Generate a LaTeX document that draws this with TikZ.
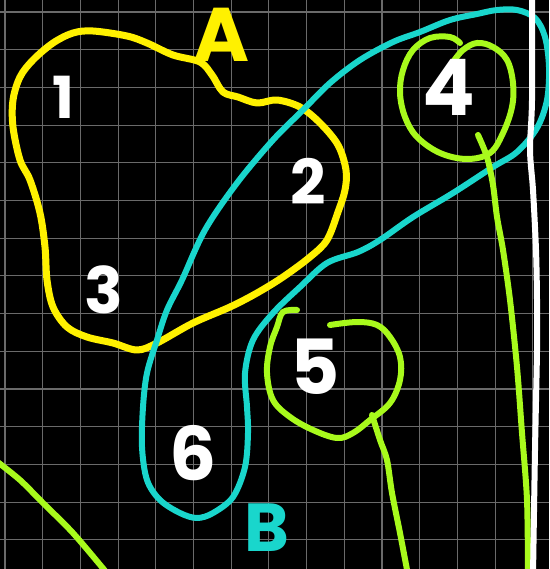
\documentclass[tikz,border=0pt]{standalone}
\usepackage{fontspec}
\setmainfont{Poppins}
\definecolor{SketchYellow}{HTML}{FFF100}
\definecolor{SketchCyan}{HTML}{19D6CC}
\definecolor{SketchGreen}{HTML}{A8FA1C}
\definecolor{GridGray}{HTML}{6A6A6A}
\tikzset{
  pen/.style={line width=6pt,line cap=round,line join=round},
  digit/.style={text=white,inner sep=0pt,font=\fontsize{#1}{#1}\selectfont\bfseries},
  digit/.default=64
}

\begin{document}
\begin{tikzpicture}[x=1pt,y=-1pt]
  \useasboundingbox (0,0) rectangle (549,569);
  \fill[black] (0,0) rectangle (549,569);
  \clip (0,0) rectangle (549,569);
  % grid
  \foreach \k in {0,...,14} {
    \draw[GridGray,line width=1.1pt] ({5+37.7*\k},0) -- ({5+37.7*\k},569);
    \draw[GridGray,line width=1.1pt] (0,{12+37.7*\k}) -- (549,{12+37.7*\k});
  }
  % set A
  \draw[pen,SketchYellow,line width=7pt] plot[smooth cycle,tension=.55] coordinates
   {(93,31)(127,36)(147,43)(173,55)(200,62)(212,75)(223,92)(238,97)(257,103)(277,100)
    (300,107)(320,123)(338,145)(346,170)(345,190)(338,212)(327,240)(310,257)(283,277)
    (257,293)(230,307)(193,323)(157,343)(137,350)(113,343)(87,337)(67,327)(53,307)
    (47,280)(45,247)(40,213)(30,180)(20,160)(13,127)(13,100)(20,77)(33,60)(53,43)(73,33)};
  % set B
  \draw[pen,SketchCyan] plot[smooth cycle,tension=.55] coordinates
   {(450,20)(477,14)(497,10)(517,10)(535,18)(545,37)(549,67)(547,100)(537,128)(517,152)
    (493,167)(453,193)(413,217)(380,240)(358,252)(327,263)(300,287)(273,313)(253,340)
    (245,373)(247,407)(248,433)(245,467)(233,497)(213,513)(197,518)(180,513)(160,500)
    (147,480)(142,447)(143,407)(147,373)(157,340)(167,310)(182,280)(205,230)(237,183)
    (273,140)(303,110)(330,83)(360,60)(393,42)(420,32)};
  % loops round 4 and 5, with their tails
  \draw[pen,SketchGreen] plot[smooth,tension=.6] coordinates
   {(460,43)(450,37)(430,38)(413,50)(403,70)(400,93)(405,117)(417,137)(440,153)(467,159)
    (490,153)(503,133)(512,107)(513,83)(507,60)(493,47)(477,43)(463,50)(453,62)};
  \draw[pen,SketchGreen] plot[smooth] coordinates
   {(478,135)(487,157)(493,185)(497,217)(503,250)(510,300)(517,367)(522,433)(527,500)(528,575)};
  \draw[pen,SketchGreen] plot[smooth,tension=.6] coordinates
   {(297,310)(283,312)(277,327)(270,347)(267,373)(273,400)(290,417)(313,430)(337,438)
    (353,433)(370,420)(390,403)(400,380)(400,357)(390,337)(377,325)(357,322)(330,325)};
  \draw[pen,SketchGreen] plot[smooth] coordinates
   {(372,415)(380,440)(387,460)(392,493)(400,533)(408,575)};
  \draw[pen,SketchGreen] plot[smooth] coordinates
   {(-5,460)(20,480)(43,503)(73,533)(106,572)};
  % right margin
  \draw[pen,white] plot[smooth] coordinates
   {(532,-5)(532,100)(530,150)(533,190)(536,250)(537,300)(537,350)(535,450)(533,575)};
  % labels
  \node[digit=58] (one) at (63,97) {1};
  \node[digit=62] (two) at (308,181) {2};
  \node[digit=64] (three) at (104,290) {3};
  \node[digit=78] (four) at (449,87) {4};
  \node[digit=76] (five) at (315,367) {5};
  \node[digit=74] (six) at (193,453) {6};
  \node[digit=76,text=SketchYellow] (setA) at (222,35) {A};
  \node[digit=68,text=SketchCyan] (setB) at (267,528) {B};
\end{tikzpicture}
\end{document}
